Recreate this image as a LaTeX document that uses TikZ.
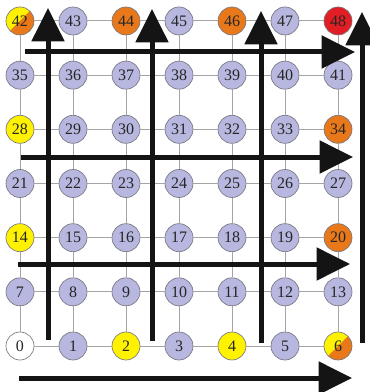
\documentclass[tikz,border=0pt]{standalone}
\usepackage{fontspec}
\setmainfont{Liberation Serif}
\usetikzlibrary{arrows.meta}
\definecolor{lav}{RGB}{183,183,224}
\definecolor{yel}{RGB}{255,242,0}
\definecolor{org}{RGB}{232,120,25}
\definecolor{rd}{RGB}{226,30,36}
\definecolor{gridc}{RGB}{165,165,165}
\definecolor{ndline}{RGB}{120,120,130}
\begin{document}
\begin{tikzpicture}[x=0.75pt,y=-0.75pt,
  nd/.style={circle, draw=ndline, line width=0.5pt, minimum size=21pt, inner sep=0pt,
    font=\fontsize{12}{12}\selectfont, text=black!85, fill=lav},
  halfsplit/.style={fill=yel, path picture={\fill[org] (path picture bounding box.north east) -- (path picture bounding box.south west) -- (path picture bounding box.south east) -- cycle;}},
  c0/.style={fill=white},
  c2/.style={fill=yel}, c4/.style={fill=yel}, c14/.style={fill=yel}, c28/.style={fill=yel},
  c20/.style={fill=org}, c34/.style={fill=org}, c44/.style={fill=org}, c46/.style={fill=org},
  c48/.style={fill=rd},
  c6/.style={halfsplit}, c42/.style={halfsplit},
  gl/.style={draw=gridc, line width=0.75pt},
  big/.style={line width=3.75pt, draw=black!92, -{Triangle[length=25pt,width=24pt]}}]
\clip (0,0) rectangle (370,392);
\fill[white] (0,0) rectangle (370,392);
% nodes
\foreach \j in {0,...,6}{
  \foreach \i in {0,...,6}{
    \pgfmathtruncatemacro{\n}{7*\j+\i}
    \node[nd, c\n/.try] (n\n) at ({20+53*\i},{346-54.17*\j}) {\n};
  }
}
% grid lines
\foreach \j in {0,...,6}{
  \foreach \i in {0,...,5}{
    \pgfmathtruncatemacro{\a}{7*\j+\i}
    \pgfmathtruncatemacro{\b}{7*\j+\i+1}
    \draw[gl] (n\a) -- (n\b);
  }
}
\foreach \j in {0,...,5}{
  \foreach \i in {0,...,6}{
    \pgfmathtruncatemacro{\a}{7*\j+\i}
    \pgfmathtruncatemacro{\b}{7*\j+\i+7}
    \draw[gl] (n\a) -- (n\b);
  }
}
% vertical arrows
\coordinate (v1s) at (48,340);  \coordinate (v1e) at (48,8);
\coordinate (v2s) at (152,341); \coordinate (v2e) at (152,9);
\coordinate (v3s) at (261,343); \coordinate (v3e) at (261,11);
\coordinate (v4s) at (362,343); \coordinate (v4e) at (362,12);
% horizontal arrows
\coordinate (h1s) at (25,52);  \coordinate (h1e) at (355,52);
\coordinate (h2s) at (21,157); \coordinate (h2e) at (353,157);
\coordinate (h3s) at (18,264); \coordinate (h3e) at (350,264);
\coordinate (h4s) at (19,378); \coordinate (h4e) at (352,378);
\foreach \k in {1,2,3,4}{
  \draw[big] (v\k s) -- (v\k e);
  \draw[big] (h\k s) -- (h\k e);
}
\end{tikzpicture}
\end{document}
